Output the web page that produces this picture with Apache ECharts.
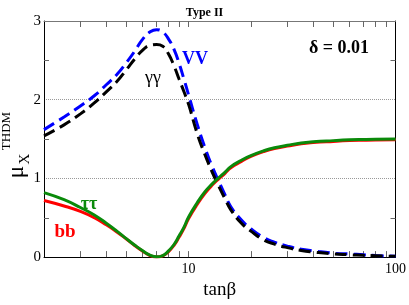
<!DOCTYPE html>
<html>
<head>
<meta charset="utf-8">
<script src="https://cdn.jsdelivr.net/npm/echarts@6/dist/echarts.min.js"></script>
<style>html,body{margin:0;padding:0;background:#fff}#c{width:409px;height:305px}</style>
</head>
<body>
<div id="c"></div>
<script>
var tanb = [2, 2.5, 3, 3.5, 4, 4.5, 5, 5.5, 6, 6.5, 7, 7.5, 8, 8.5, 9, 9.5, 10, 11, 12, 13, 14, 15, 16, 18, 20, 23, 26, 30, 35, 40, 50, 60, 70, 80, 100];
var muVV = [1.62, 1.78, 1.92, 2.05, 2.19, 2.32, 2.47, 2.62, 2.77, 2.86, 2.89, 2.86, 2.77, 2.64, 2.46, 2.26, 2.06, 1.69, 1.39, 1.15, 0.96, 0.79, 0.64, 0.47, 0.36, 0.25, 0.19, 0.14, 0.10, 0.08, 0.05, 0.04, 0.03, 0.02, 0.01];
var muGG = [1.54, 1.68, 1.82, 1.96, 2.10, 2.23, 2.38, 2.52, 2.63, 2.69, 2.70, 2.68, 2.58, 2.43, 2.26, 2.10, 1.94, 1.57, 1.30, 1.08, 0.90, 0.74, 0.60, 0.43, 0.33, 0.22, 0.165, 0.12, 0.085, 0.065, 0.04, 0.03, 0.022, 0.017, 0.01];
var muBB = [0.72, 0.65, 0.58, 0.50, 0.41, 0.32, 0.23, 0.145, 0.075, 0.02, 0.0, 0.015, 0.07, 0.15, 0.255, 0.365, 0.49, 0.67, 0.81, 0.915, 0.995, 1.065, 1.135, 1.215, 1.28, 1.34, 1.38, 1.41, 1.44, 1.455, 1.47, 1.48, 1.485, 1.488, 1.49];
var muTT = [0.82, 0.73, 0.63, 0.535, 0.43, 0.33, 0.235, 0.15, 0.08, 0.025, 0.003, 0.02, 0.08, 0.16, 0.27, 0.38, 0.51, 0.69, 0.83, 0.93, 1.01, 1.08, 1.15, 1.23, 1.29, 1.35, 1.39, 1.42, 1.45, 1.465, 1.48, 1.49, 1.495, 1.498, 1.50];
var xTicks = [3, 4, 5, 6, 7, 8, 9, 10, 20, 30, 40, 50, 60, 70, 80, 90];
var xLabels = [10, 100];
var yTicks = [0.5, 1.5, 2.5];

function pairs(ys) { return tanb.map(function (x, i) { return [x, ys[i]]; }); }

var serif = 'Liberation Serif';
var chart = echarts.init(document.getElementById('c'));
function xAx(pos, showLabel) {
  return {
    type: 'log', logBase: 10, min: 2, max: 100, position: pos,
    axisLine: { show: true, onZero: false, lineStyle: { color: showLabel ? '#000' : '#777', width: 1 } },
    axisTick: { show: true, inside: true, length: 6, customValues: xTicks, lineStyle: { color: '#666', width: 1 } },
    axisLabel: { show: showLabel, customValues: xLabels, margin: 5, color: '#000', fontFamily: serif, fontSize: 14 },
    splitLine: { show: false },
    minorTick: { show: false },
    name: showLabel ? 'tanβ' : '', nameLocation: 'middle', nameGap: 19,
    nameTextStyle: { fontFamily: serif, fontSize: 19, color: '#000', verticalAlign: 'top' }
  };
}
function yAx(pos, showLabel) {
  return {
    type: 'value', min: 0, max: 3, interval: 1, position: pos,
    axisLine: { show: true, onZero: false, lineStyle: { color: '#000', width: 1 } },
    axisTick: { show: true, inside: true, length: 5, customValues: yTicks, lineStyle: { color: '#666', width: 1 } },
    minorTick: { show: false },
    axisLabel: { show: showLabel, margin: 3, color: '#000', fontFamily: serif, fontSize: 15 },
    splitLine: { show: false }
  };
}
var gridAxis = {
  type: 'value', min: 0, max: 3, interval: 1, position: 'left',
  axisLine: { show: false }, axisTick: { show: false }, axisLabel: { show: false },
  splitLine: { show: true, lineStyle: { type: 'dotted', color: '#999', width: 1 } }
};
var dash = [12, 6];
var lbl = function (txt, x, y, font, color) {
  return { type: 'text', x: x, y: y, z: 100, style: { text: txt, font: font, fill: color, align: 'center', verticalAlign: 'middle', textAlign: 'center', textVerticalAlign: 'middle' } };
};
var rot = function (txt, x, y, font) {
  var g = lbl(txt, x, y, font, '#000');
  g.rotation = Math.PI / 2;
  return g;
};
function line(name, ys, color, type) {
  return { name: name, type: 'line', data: pairs(ys), smooth: 0.5, symbol: 'none', lineStyle: { color: color, width: 3, type: type } };
}
chart.setOption({
  animation: false,
  title: { text: 'Type II', left: 'center', top: 2, textStyle: { fontFamily: serif, fontSize: 12, fontWeight: 'bold', color: '#000' } },
  grid: { left: 44, right: 12, top: 21, bottom: 38 },
  xAxis: [xAx('bottom', true), xAx('top', false)],
  yAxis: [yAx('left', true), yAx('right', false), gridAxis],
  series: [
    line('VV', muVV, '#0000ff', dash),
    line('γγ', muGG, '#000000', dash),
    line('bb', muBB, '#ff0000', 'solid'),
    line('ττ', muTT, '#0a8a0a', 'solid')
  ],
  graphic: [
    lbl('δ = 0.01', 339, 48, 'bold 18px "Liberation Serif"', '#000'),
    lbl('VV', 195, 59, 'bold 18px "Liberation Serif"', '#0000ff'),
    lbl('γγ', 153, 78, '18px "Liberation Serif"', '#000'),
    lbl('ττ', 89, 204, 'bold 18px "Liberation Serif"', '#0a8a0a'),
    lbl('bb', 65, 232, 'bold 19px "Liberation Serif"', '#ff0000'),
    rot('μ', 17, 172, '23px "Liberation Serif"'),
    rot('X', 25, 159, '15px "Liberation Serif"'),
    rot('THDM', 7, 131, '13px "Liberation Serif"')
  ]
});
</script>
</body>
</html>
